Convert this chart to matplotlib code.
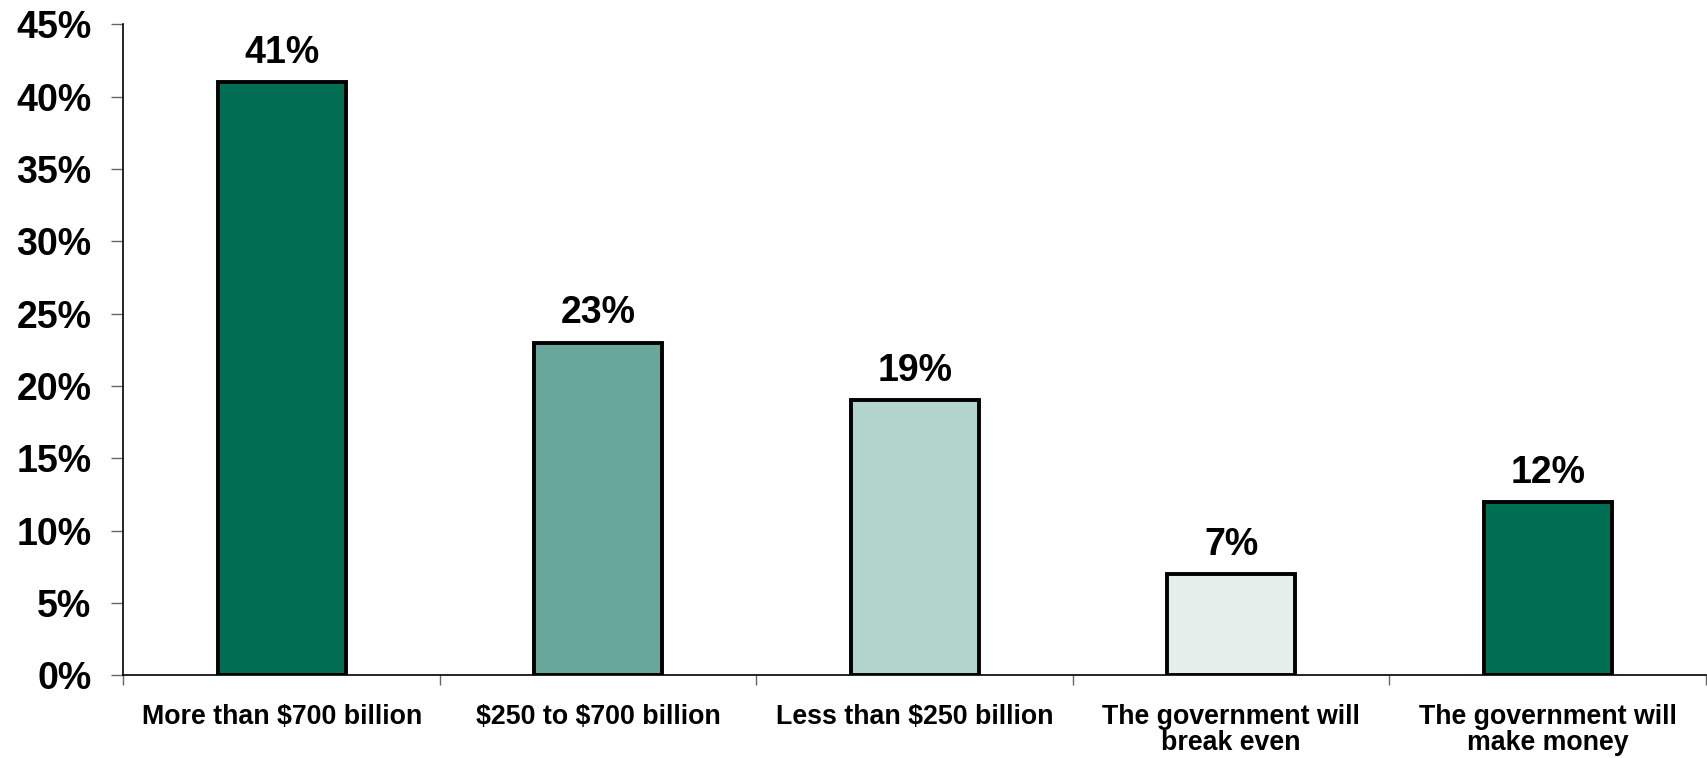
import matplotlib.pyplot as plt
import numpy as np

plt.rcParams.update({
    'font.family': ['Liberation Sans', 'DejaVu Sans'],
    'font.weight': 'bold',
    'text.parse_math': False,
})

# Survey answers and share of respondents (%)
categories = ['More than $700 billion', '$250 to $700 billion', 'Less than $250 billion',
              'The government will\nbreak even', 'The government will\nmake money']
values = [41, 23, 19, 7, 12]
bar_colors = ['#006E52', '#67A89A', '#B2D4CC', '#E4EFEB', '#006E52']
y_ticks = [0, 5, 10, 15, 20, 25, 30, 35, 40, 45]

fig = plt.figure(figsize=(17.07, 7.58), dpi=100)
ax = fig.add_axes([0.0723, 0.1091, 0.9271, 0.8589])

x = np.arange(len(categories))
ax.bar(x, values, width=0.405, color=bar_colors, edgecolor='black', linewidth=2.8, zorder=3)

# Value labels above each bar
for xi, v in zip(x, values):
    ax.annotate(f"{v}%", (xi, v), xytext=(0, 8), textcoords='offset points',
                ha='center', va='bottom', fontsize=27, fontweight='bold')

ax.set_xlim(-0.5, len(categories) - 0.5)
ax.set_ylim(0, 45)

ax.set_yticks(y_ticks)
ax.set_yticklabels([f"{t}%" for t in y_ticks], fontsize=27, fontweight='bold')
ax.tick_params(axis='y', direction='out', length=9, width=1, color='#666666', pad=14)

# Category labels centred, ticks at category boundaries
ax.set_xticks(x)
ax.set_xticklabels(categories, fontsize=19.3, fontweight='bold', linespacing=1.0)
ax.tick_params(axis='x', which='major', length=0, pad=21)
ax.set_xticks(np.arange(-0.5, len(categories)), minor=True)
ax.tick_params(axis='x', which='minor', direction='out', length=7, width=1, color='#666666')

for side in ['top', 'right']:
    ax.spines[side].set_visible(False)
ax.spines['left'].set_linewidth(1.2)
ax.spines['bottom'].set_linewidth(1.2)

plt.savefig('out.png', dpi=100)
